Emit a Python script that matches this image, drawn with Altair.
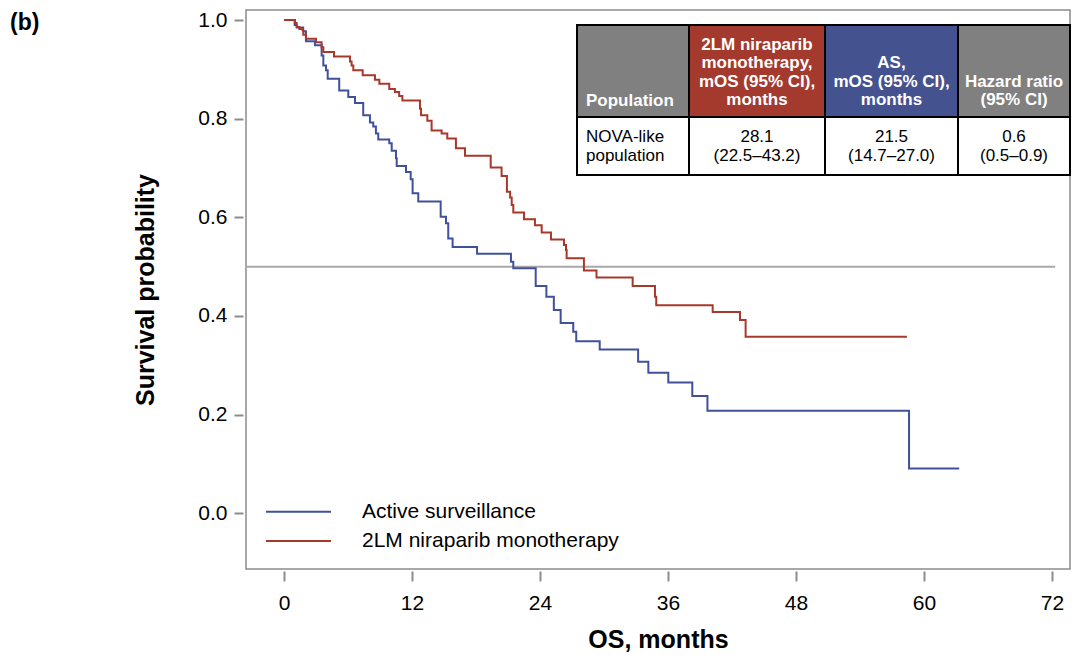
import altair as alt
import pandas as pd

# ---------------- data ----------------
series_names = ["Active surveillance", "2LM niraparib monotherapy"]
series_colors = ["#40519B", "#A8382C"]

blue_t = [0, 1.0, 1.2, 1.8, 2.06, 2.9, 3.53, 3.69, 3.94, 4.1, 5.18, 6.03, 6.66, 7.43, 8.06,
          8.37, 8.62, 8.84, 9.87, 10.1, 10.5, 10.57, 11.44, 11.88, 12.06, 12.59, 14.69, 15.19,
          15.4, 15.81, 18.1, 21.28, 21.5, 23.6, 24.6, 25.3, 25.94, 27.12, 27.4, 29.6, 33.2,
          34.16, 36.03, 38.28, 39.7, 58.6, 63.3]
blue_s = [1.0, 0.99, 0.985, 0.977, 0.957, 0.949, 0.928, 0.908, 0.898, 0.881, 0.857, 0.844,
          0.832, 0.807, 0.792, 0.784, 0.770, 0.758, 0.750, 0.735, 0.720, 0.704, 0.692, 0.677,
          0.649, 0.632, 0.601, 0.588, 0.557, 0.540, 0.526, 0.510, 0.497, 0.461, 0.439, 0.412,
          0.386, 0.368, 0.349, 0.332, 0.307, 0.285, 0.265, 0.238, 0.208, 0.091, 0.091]

red_t = [0, 1.03, 1.19, 1.44, 1.75, 1.81, 2.06, 3.0, 3.53, 3.69, 4.69, 6.19, 6.34, 6.5, 7.38,
         8.53, 8.94, 9.87, 10.4, 10.8, 11.1, 12.75, 12.85, 13.44, 13.84, 14.78, 15.31, 16.12,
         16.97, 19.38, 20.4, 20.9, 21.2, 21.35, 21.5, 22.5, 23.53, 24.16, 25.03, 26.25, 26.44,
         26.5, 28.12, 29.3, 32.69, 34.78, 34.9, 40.19, 42.75, 43.28, 58.4]
red_s = [1.0, 0.994, 0.986, 0.982, 0.979, 0.970, 0.962, 0.955, 0.945, 0.935, 0.926, 0.916,
         0.908, 0.898, 0.888, 0.879, 0.871, 0.860, 0.854, 0.846, 0.837, 0.820, 0.807, 0.796,
         0.776, 0.770, 0.760, 0.740, 0.725, 0.701, 0.684, 0.652, 0.640, 0.625, 0.610, 0.596,
         0.584, 0.569, 0.555, 0.544, 0.534, 0.517, 0.492, 0.478, 0.461, 0.439, 0.422, 0.408,
         0.392, 0.358, 0.358]

x_ticks = [0, 12, 24, 36, 48, 60, 72]
y_ticks = [0.0, 0.2, 0.4, 0.6, 0.8, 1.0]
median_level = 0.5

table_headers = [
    ["Population"],
    ["2LM niraparib", "monotherapy,", "mOS (95% CI),", "months"],
    ["AS,", "mOS (95% CI),", "months"],
    ["Hazard ratio", "(95% CI)"],
]
table_body = [
    ["NOVA-like", "population"],
    ["28.1", "(22.5\u201343.2)"],
    ["21.5", "(14.7\u201327.0)"],
    ["0.6", "(0.5\u20130.9)"],
]
header_fills = ["#808080", "#A33A2D", "#44528F", "#808080"]

# ---------------- layout constants (pixels, plot-area coordinates) ----------------
W, H = 824, 559
X_DOM = [-3.56, 73.69]
Y_DOM = [-0.1129, 1.0203]
FONT = "Liberation Sans, Arial, Helvetica, sans-serif"

col_edges = [331, 443, 579, 712, 824]
row_edges = [15, 107, 165]
line_gap = 18.5
header_last_y = 90
body_ys = [126.5, 146]

# ---------------- frames ----------------
rows = []
for t, s in zip(blue_t, blue_s):
    rows.append({"series": series_names[0], "t": t, "s": s})
for t, s in zip(red_t, red_s):
    rows.append({"series": series_names[1], "t": t, "s": s})
km = pd.DataFrame(rows)

xscale = alt.Scale(domain=X_DOM, nice=False, zero=False)
yscale = alt.Scale(domain=Y_DOM, nice=False, zero=False)
x_axis = alt.Axis(values=x_ticks, title="OS, months", offset=2, tickSize=10,
                  labelPadding=11, titlePadding=14)
y_axis = alt.Axis(values=y_ticks, format=".1f", title="Survival probability",
                  offset=3, tickSize=9, labelPadding=7, titlePadding=39)

ref = pd.DataFrame({"t": [X_DOM[0]], "t2": [72.3], "s": [median_level]})
ref_layer = alt.Chart(ref).mark_rule(color="#A8A8A8", strokeWidth=2).encode(
    x=alt.X("t:Q", scale=xscale, axis=x_axis),
    x2="t2:Q",
    y=alt.Y("s:Q", scale=yscale, axis=y_axis),
)

curves = alt.Chart(km).mark_line(interpolate="step-after", strokeWidth=2).encode(
    x=alt.X("t:Q", scale=xscale, axis=x_axis),
    y=alt.Y("s:Q", scale=yscale, axis=y_axis),
    color=alt.Color("series:N", scale=alt.Scale(domain=series_names, range=series_colors),
                    legend=None),
)

# legend (manual)
leg = pd.DataFrame({"series": series_names, "ly": [501.7, 531.0]})
leg_lines = alt.Chart(leg).mark_rule(strokeWidth=2).encode(
    x=alt.value(20), x2=alt.value(85),
    y=alt.Y("ly:Q", scale=None),
    color=alt.Color("series:N", scale=alt.Scale(domain=series_names, range=series_colors),
                    legend=None),
)
leg_text = alt.Chart(leg).mark_text(align="left", baseline="middle", fontSize=21,
                                    font=FONT, color="black").encode(
    x=alt.value(116), y=alt.Y("ly:Q", scale=None), text="series:N"
)

# table
cells = []
for i in range(4):
    cells.append({"x0": col_edges[i], "x1": col_edges[i + 1], "y0": row_edges[0],
                  "y1": row_edges[1], "fill": header_fills[i]})
    cells.append({"x0": col_edges[i], "x1": col_edges[i + 1], "y0": row_edges[1],
                  "y1": row_edges[2], "fill": "#FFFFFF"})
cells_df = pd.DataFrame(cells)
table_cells = alt.Chart(cells_df).mark_rect(stroke="black", strokeWidth=2).encode(
    x=alt.X("x0:Q", scale=None), x2="x1:Q",
    y=alt.Y("y0:Q", scale=None), y2="y1:Q",
    fill=alt.Fill("fill:N", scale=None),
)

hdr_left, hdr_center, body_left, body_center = [], [], [], []
for i, lines in enumerate(table_headers):
    n = len(lines)
    for j, txt in enumerate(lines):
        y = header_last_y - (n - 1 - j) * line_gap
        if i == 0:
            hdr_left.append({"text": txt, "x": col_edges[0] + 9, "y": y + 1})
        else:
            hdr_center.append({"text": txt, "x": (col_edges[i] + col_edges[i + 1]) / 2, "y": y})
for i, lines in enumerate(table_body):
    for j, txt in enumerate(lines):
        if i == 0:
            body_left.append({"text": txt, "x": col_edges[0] + 9, "y": body_ys[j]})
        else:
            body_center.append({"text": txt, "x": (col_edges[i] + col_edges[i + 1]) / 2,
                                "y": body_ys[j]})


def text_layer(records, align, bold, color):
    return alt.Chart(pd.DataFrame(records)).mark_text(
        align=align, baseline="middle", fontSize=17, font=FONT,
        fontWeight="bold" if bold else "normal", color=color
    ).encode(x=alt.X("x:Q", scale=None), y=alt.Y("y:Q", scale=None), text="text:N")


panel = pd.DataFrame({"label": ["(b)"]})
panel_text = alt.Chart(panel).mark_text(align="left", baseline="middle", fontSize=23,
                                        fontWeight="bold", font=FONT, color="black").encode(
    x=alt.value(-236), y=alt.value(13), text="label:N"
)

chart = alt.layer(
    ref_layer, curves, leg_lines, leg_text, table_cells,
    text_layer(hdr_left, "left", True, "white"),
    text_layer(hdr_center, "center", True, "white"),
    text_layer(body_left, "left", False, "black"),
    text_layer(body_center, "center", False, "black"),
    panel_text,
).properties(
    width=W, height=H,
    autosize=alt.AutoSizeParams(type="none"),
    padding={"left": 238, "top": 2, "right": 2, "bottom": 88},
).configure_view(
    stroke="#8C8C8C", strokeWidth=1.5
).configure_axis(
    grid=False, domain=False, tickColor="#8C8C8C", tickWidth=2,
    labelFont=FONT, labelFontSize=21, labelColor="black",
    titleFont=FONT, titleFontSize=25, titleFontWeight="bold", titleColor="black",
)

chart.save("out.html", embed_options={"renderer": "svg", "actions": False})
